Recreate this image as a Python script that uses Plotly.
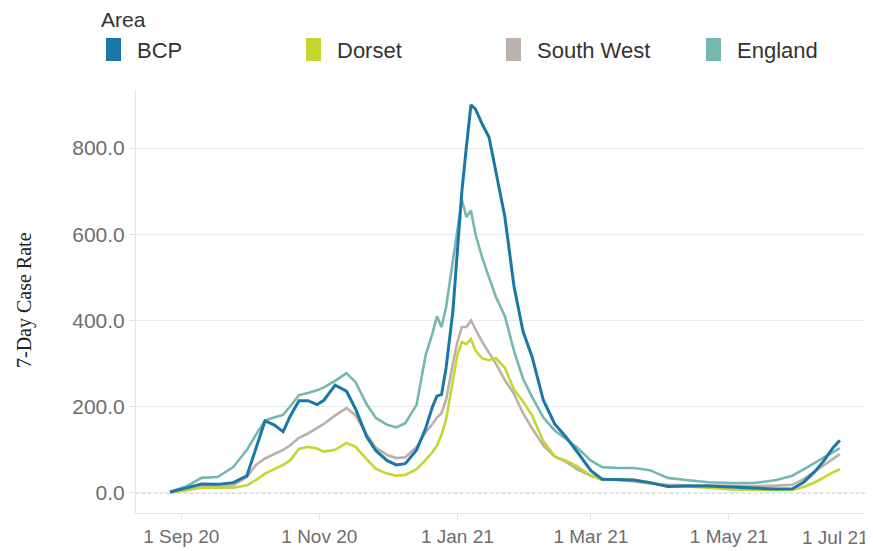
import plotly.graph_objects as go

# ---------------- data ----------------
dates = [
    "2020-08-27", "2020-09-03", "2020-09-10", "2020-09-17", "2020-09-24", "2020-09-30",
    "2020-10-04", "2020-10-08", "2020-10-12", "2020-10-16", "2020-10-19", "2020-10-23",
    "2020-10-27", "2020-10-31", "2020-11-03", "2020-11-08", "2020-11-13", "2020-11-17",
    "2020-11-22", "2020-11-26", "2020-12-01", "2020-12-05", "2020-12-09", "2020-12-14",
    "2020-12-18", "2020-12-21", "2020-12-23", "2020-12-25", "2020-12-27", "2020-12-30",
    "2021-01-01", "2021-01-03", "2021-01-05", "2021-01-07", "2021-01-09", "2021-01-12",
    "2021-01-15", "2021-01-18", "2021-01-22", "2021-01-26", "2021-01-30", "2021-02-03",
    "2021-02-08", "2021-02-13", "2021-02-18", "2021-02-23", "2021-03-01", "2021-03-06",
    "2021-03-13", "2021-03-20", "2021-03-27", "2021-04-04", "2021-04-12", "2021-04-22",
    "2021-05-02", "2021-05-12", "2021-05-22", "2021-05-29", "2021-06-03", "2021-06-08",
    "2021-06-12", "2021-06-16", "2021-06-19",
]

bcp = [
    2, 12, 21, 20, 24, 40,
    105, 167, 158, 142, 177, 214,
    214, 205, 215, 250, 236, 195,
    130, 98, 75, 65, 68, 100,
    150, 200, 225, 228, 290, 420,
    560, 700, 803, 900, 890, 855,
    825, 745, 640, 480, 375, 316,
    215, 160, 130, 95, 52, 32,
    31, 30, 24, 15, 16, 16,
    14, 12, 9, 10, 25, 50,
    75, 105, 122,
]

dorset = [
    2, 6, 12, 12, 12, 18,
    30, 45, 55, 65, 75, 102,
    107, 103, 96, 100, 116, 107,
    78, 56, 45, 40, 42, 55,
    77, 95, 110, 135, 170, 265,
    320, 350, 345, 357, 330, 312,
    308, 313, 290, 240, 212, 180,
    120, 85, 75, 62, 40, 30,
    32, 30, 25, 15, 15, 12,
    8, 7, 7, 7, 14, 25,
    36, 48, 55,
]

south_west = [
    2, 7, 14, 16, 18, 37,
    65, 80, 90, 100, 110, 128,
    138, 150, 160, 180, 197, 180,
    135, 105, 88, 81, 83, 107,
    141, 160, 175, 185, 215, 300,
    350, 385, 385, 400, 380, 350,
    325, 300, 262, 230, 185, 150,
    110, 84, 72, 55, 40, 33,
    30, 27, 22, 19, 18, 17,
    16, 16, 17, 19, 32, 50,
    65, 80, 90,
]

england = [
    3, 15, 35, 37, 60, 100,
    135, 168, 175, 181, 200, 227,
    232, 238, 245, 260, 278, 257,
    205, 174, 158, 152, 162, 205,
    320, 370, 410, 385, 430, 540,
    610, 680, 640, 655, 600, 545,
    500, 455, 410, 330, 265, 223,
    175, 145, 125, 105, 75, 60,
    58, 58, 53, 35, 30, 25,
    23, 23, 30, 40, 55, 70,
    82, 95, 104,
]

series_names = ["BCP", "Dorset", "South West", "England"]
series_values = [bcp, dorset, south_west, england]
series_colors = ["#1B77A6", "#C3D730", "#BAB0AC", "#76B7B2"]
series_widths = [3, 2.6, 2.6, 2.6]

x_tick_vals = ["2020-09-01", "2020-11-01", "2021-01-01", "2021-03-01", "2021-05-01", "2021-07-01"]
x_tick_text = ["1 Sep 20", "1 Nov 20", "1 Jan 21", "1 Mar 21", "1 May 21", "1 Jul 21"]
y_tick_vals = [0, 200, 400, 600, 800]

# ---------------- layout geometry ----------------
# the page body has an 8px margin, so the figure is drawn 8px in from the window corner
OFF = 8
W, H = 873 - OFF, 551 - OFF
L, R, T, B = 136 - OFF, 6, 90 - OFF, 38
PW, PH = W - L - R, H - T - B


def px(x):
    """window pixel x -> paper x"""
    return (x - OFF - L) / PW


def py(y):
    """window pixel y -> paper y"""
    return (H - B - (y - OFF)) / PH


fig = go.Figure()

# draw order: England, South West, Dorset, BCP on top
for i in [3, 2, 1, 0]:
    fig.add_trace(go.Scatter(
        x=dates, y=series_values[i], name=series_names[i], mode="lines",
        line=dict(color=series_colors[i], width=series_widths[i]),
        showlegend=False,
    ))

x_tick_font = dict(family="Liberation Sans, Arial, sans-serif", size=19, color="#6e6e6e")
y_tick_font = dict(family="Liberation Sans, Arial, sans-serif", size=21, color="#6e6e6e")
legend_font = dict(family="Liberation Sans, Arial, sans-serif", size=22, color="#333333")

fig.update_layout(
    width=W, height=H,
    margin=dict(l=L, r=R, t=T, b=B, autoexpand=False),
    paper_bgcolor="white", plot_bgcolor="white",
    showlegend=False,
    xaxis=dict(
        type="date", automargin=False,
        range=["2020-08-12", "2021-07-01"],
        tickvals=x_tick_vals,
        ticktext=x_tick_text[:-1] + [""],
        ticks="outside", ticklen=6, tickcolor="#e6e6e6", tickwidth=1,
        showgrid=False, zeroline=False,
        showline=True, linecolor="#e6e6e6", linewidth=1,
        tickfont=x_tick_font,
    ),
    yaxis=dict(
        automargin=False,
        range=[-46.4, 934.5],
        tickvals=y_tick_vals,
        tickformat=".1f",
        ticks="outside", ticklen=6, tickcolor="#e0e0e0",
        showgrid=True, gridcolor="#ececec", gridwidth=1,
        zeroline=False,
        showline=True, linecolor="#e6e6e6", linewidth=1,
        tickfont=y_tick_font,
    ),
)

# dotted zero line
fig.add_shape(type="line", xref="paper", yref="y", x0=0, x1=1, y0=0, y1=0,
              line=dict(color="#a8a8a8", width=1, dash="dot"), layer="below")

# last x tick label kept inside the plot edge (as in the reference)
fig.add_annotation(xref="paper", yref="paper", x=px(871), y=py(537),
                   text=x_tick_text[-1], showarrow=False, xanchor="right", yanchor="middle",
                   font=x_tick_font)

# y axis title
fig.add_annotation(xref="paper", yref="paper", x=px(24), y=py(300),
                   text="7-Day Case Rate", textangle=-90, showarrow=False,
                   xanchor="center", yanchor="middle",
                   font=dict(family="Liberation Serif, Times New Roman, serif", size=20, color="#222222"))

# legend (manual, square swatches)
fig.add_annotation(xref="paper", yref="paper", x=px(99), y=py(19),
                   text="Area", showarrow=False, xanchor="left", yanchor="middle",
                   font=dict(family="Liberation Sans, Arial, sans-serif", size=21, color="#333333"))
for k, name in enumerate(series_names):
    x0 = 106 + 200 * k
    fig.add_shape(type="rect", xref="paper", yref="paper",
                  x0=px(x0), x1=px(x0 + 15), y0=py(61), y1=py(38),
                  line=dict(width=0), fillcolor=series_colors[k])
    fig.add_annotation(xref="paper", yref="paper", x=px(x0 + 29), y=py(50),
                       text=name, showarrow=False, xanchor="left", yanchor="middle",
                       font=legend_font)

fig.write_html("out.html")
